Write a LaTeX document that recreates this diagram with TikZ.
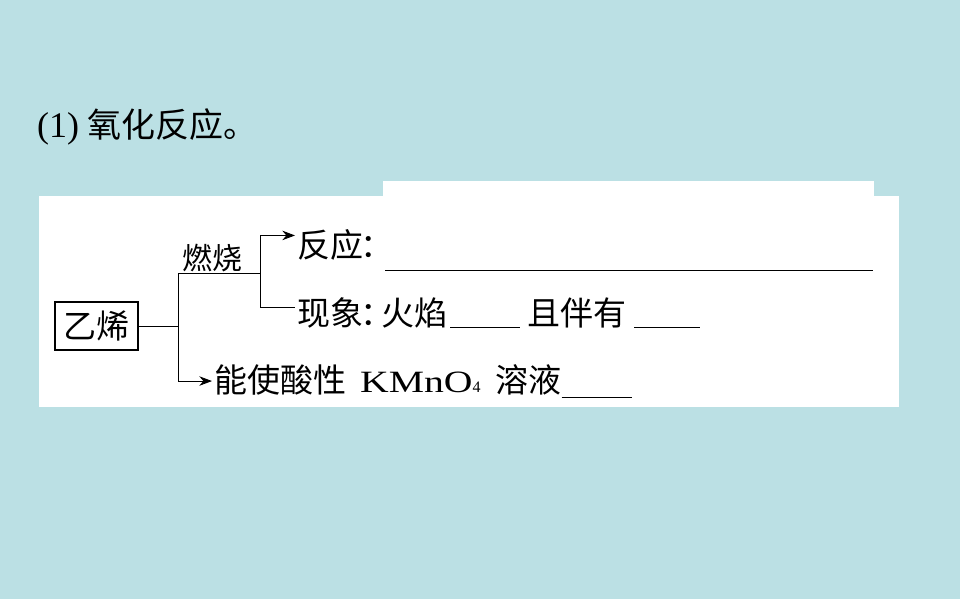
\documentclass[tikz,border=0pt]{standalone}
\usepackage{fontspec}
\usepackage{graphicx}
\setmainfont{Liberation Serif}
\newfontfamily\cjk{Noto Sans CJK SC}
\usetikzlibrary{arrows.meta, positioning}
\definecolor{bgcyan}{RGB}{187,224,228}
\tikzstyle{arrow} = [draw, -{Stealth[scale=1.8]}, line width=0.9pt]
\tikzstyle{link} = [draw, line width=0.9pt]
\tikzstyle{label} = [inner sep=2pt, anchor=base west, font=\fontsize{33}{40}\selectfont\cjk]
\newcommand\blank[2][-3pt]{\rule[#1]{#2}{1pt}}
\newcommand\colonhalf{\makebox[18pt][l]{\hspace{-3pt}：}}

\begin{document}
\begin{tikzpicture}[x=1pt, y=-1pt]
	\fill[bgcyan] (0,0) rectangle (960,599);
	\useasboundingbox (0,0) rectangle (960,599);
	% white panel
	\fill[white] (39,196) rectangle (899,407);
	\fill[white] (383,181) rectangle (874,196);
	\node[anchor=west, inner sep=0pt, font=\fontsize{36}{42}\selectfont] (title) at (37,127) {(1)\hspace{8pt}{\fontsize{34}{40}\selectfont\cjk 氧化反应。}};
	\node[draw, line width=1.2pt, minimum width=83pt, minimum height=48pt, inner sep=0pt, font=\fontsize{33}{38}\selectfont\cjk] (ethene) at (96.5,326) {乙烯};
	\coordinate (fork) at (178,326);
	\coordinate (split) at (260,273);
	\node[label] (react) at (295,257) {反应\colonhalf};
	\node[label] (phen) at (295,325) {现象\colonhalf 火焰\hspace{3pt}\blank{70pt}\hspace{7pt}且伴有\hspace{8pt}\blank{66pt}};
	\node[label] (oxid) at (212,392) {能使酸性\hspace{14pt}{\rmfamily\fontsize{31}{36}\selectfont\scalebox{1.28}[1]{KMnO}{\fontsize{16}{18}\selectfont 4}}\hspace{15pt}溶液\blank[-6pt]{70pt}};
	\node[anchor=south, inner sep=1pt, font=\fontsize{30}{34}\selectfont\cjk] (burn) at (212,273) {燃烧};
	\draw[link] (ethene) -- (fork);
	\draw[link] (split -| fork) -- (split);
	\draw[arrow] (split -| fork) |- (oxid.west);
	\draw[arrow] (split) |- ([yshift=9pt]react.west);
	\draw[link] (split) |- ([yshift=5pt]phen.west);
	\draw[link] (385,270) -- (873,270);
\end{tikzpicture}
\end{document}
